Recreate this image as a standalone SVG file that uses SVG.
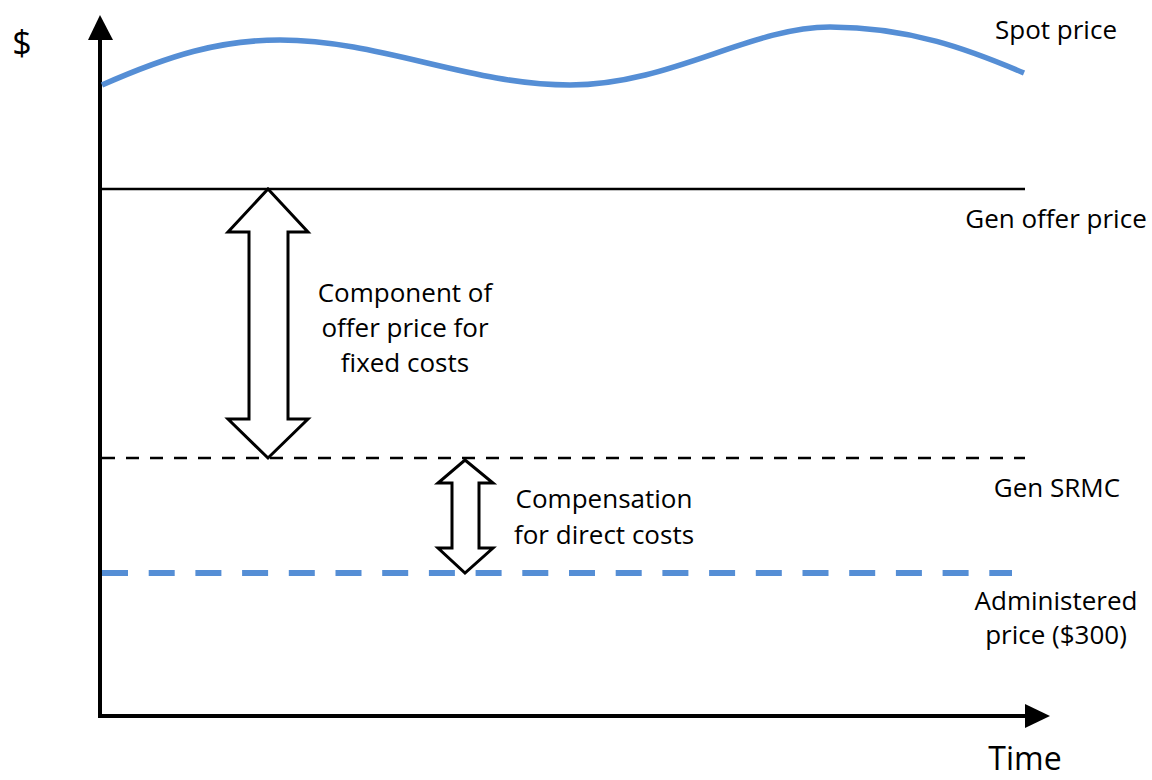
<svg xmlns="http://www.w3.org/2000/svg" width="1152" height="780" viewBox="0 0 1152 780">
<style>
text{font-family:"Open Sans","Noto Sans",sans-serif;font-size:26px;fill:#000;text-anchor:middle}
.blue{stroke:#558ED5;fill:none}
.dbl{fill:#fff;stroke:#000;stroke-width:3;stroke-linejoin:miter}
</style>
<rect width="1152" height="780" fill="#fff"/>
<g id="axes">
<line x1="100" y1="38" x2="100" y2="718" stroke="#000" stroke-width="4"/>
<polygon points="100,15 88,40 113,40" fill="#000"/>
<line x1="98" y1="716" x2="1028" y2="716" stroke="#000" stroke-width="4"/>
<polygon points="1050,716 1025,704 1025,728" fill="#000"/>
<text x="22" y="55" style="font-size:34px">$</text>
<text x="1025" y="770" style="font-size:32px">Time</text>
</g>
<g id="connectors">
<path id="spot-curve" class="blue" stroke-width="5.5" d="M102,85 C170,55 220,40 280,40 C380,40 470,85 570,85 S750,27 830,27 S970,50 1024,73"/>
<line id="gen-offer-line" x1="100" y1="189" x2="1025" y2="189" stroke="#000" stroke-width="2.5"/>
<line id="srmc-line" x1="102" y1="458" x2="1025" y2="458" stroke="#000" stroke-width="2.5" stroke-dasharray="13,11"/>
<line id="admin-line" x1="102" y1="573" x2="1012" y2="573" class="blue" stroke-width="6" stroke-dasharray="26,20.7"/>
</g>
<g id="arrow-fixed">
<polygon class="dbl" points="268,189 308,232 288,232 288,419 308,419 268,458 228,419 249,419 249,232 228,232"/>
</g>
<g id="arrow-direct">
<polygon class="dbl" points="465,460 493,483 479,483 479,548 493,548 465,573 438,548 452,548 452,483 438,483"/>
</g>
<g id="label-spot"><text x="1056" y="39">Spot price</text></g>
<g id="label-offer"><text x="1056" y="228">Gen offer price</text></g>
<g id="label-component"><text x="405" y="302">Component of</text><text x="405" y="337">offer price for</text><text x="405" y="372">fixed costs</text></g>
<g id="label-srmc"><text x="1057" y="497">Gen SRMC</text></g>
<g id="label-comp"><text x="604" y="508">Compensation</text><text x="604" y="544">for direct costs</text></g>
<g id="label-admin"><text x="1056" y="610">Administered</text><text x="1056" y="644">price ($300)</text></g>
</svg>
